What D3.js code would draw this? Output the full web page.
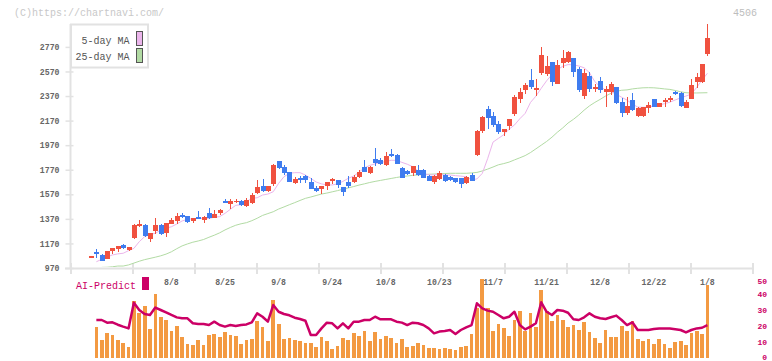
<!DOCTYPE html>
<html><head><meta charset="utf-8">
<script src="https://cdn.jsdelivr.net/npm/d3@7"></script>
<style>body{margin:0;background:#fff;}svg{display:block;}</style>
</head><body>
<svg id="c" width="772" height="361"></svg>
<script>
// ---- data (index 0 = first session, 7/17; index 15 = 8/8; index 115 = 1/8) ----
const openP  = [1063,1100,1078,1043,1111,1125,1155,1117,1212,1314,1320,1206,1271,1320,1257,1331,1353,1404,1393,1353,1385,1363,1415,1375,1418,1518,1491,1510,1518,1477,1499,1580,1637,1597,1651,1841,1792,1749,1658,1700,1718,1670,1621,1616,1640,1688,1686,1629,1667,1667,1710,1794,1743,1857,1850,1808,1900,1892,1785,1759,1743,1770,1770,1721,1672,1692,1727,1710,1700,1700,1664,1727,1893,2085,2264,2205,2142,2080,2126,2224,2346,2419,2501,2419,2560,2547,2647,2465,2641,2649,2677,2587,2373,2533,2430,2494,2399,2399,2444,2319,2234,2338,2207,2210,2275,2346,2283,2319,2338,2405,2398,2275,2348,2486,2486,2710];
const highP  = [1068,1122,1084,1111,1135,1149,1165,1141,1331,1361,1331,1255,1377,1331,1340,1375,1415,1415,1393,1377,1436,1395,1458,1445,1450,1532,1532,1532,1525,1538,1580,1686,1694,1637,1819,1845,1810,1752,1708,1722,1730,1700,1640,1640,1672,1700,1690,1632,1720,1730,1765,1849,1800,1946,1865,1913,1936,1900,1790,1770,1800,1810,1775,1725,1725,1760,1735,1720,1705,1705,1715,1745,2090,2210,2289,2240,2165,2105,2183,2375,2432,2473,2590,2506,2766,2696,2647,2660,2742,2737,2677,2609,2587,2563,2471,2527,2449,2482,2444,2354,2362,2397,2283,2280,2324,2346,2311,2351,2370,2414,2405,2337,2511,2560,2631,2956];
const lowP   = [1062,1054,1027,1043,1084,1100,1125,1109,1206,1306,1220,1184,1245,1240,1225,1325,1331,1380,1340,1335,1365,1340,1370,1375,1405,1500,1453,1500,1475,1470,1495,1575,1590,1585,1640,1775,1730,1673,1651,1660,1660,1612,1590,1575,1605,1650,1625,1556,1620,1665,1705,1750,1735,1800,1805,1800,1875,1815,1700,1725,1720,1720,1700,1675,1650,1690,1670,1680,1665,1625,1655,1675,1880,2070,2101,2120,2060,2045,2093,2210,2310,2386,2430,2370,2540,2536,2455,2465,2600,2640,2528,2405,2349,2403,2403,2392,2280,2380,2305,2197,2215,2250,2200,2200,2230,2278,2278,2283,2324,2378,2283,2275,2348,2438,2480,2696];
const closeP = [1066,1086,1029,1111,1135,1149,1130,1141,1318,1331,1231,1255,1318,1245,1336,1358,1393,1383,1344,1377,1371,1388,1375,1410,1442,1502,1518,1518,1483,1523,1564,1627,1594,1637,1808,1786,1746,1673,1694,1686,1690,1615,1600,1640,1672,1694,1645,1591,1640,1710,1751,1751,1792,1825,1819,1881,1884,1819,1705,1732,1797,1727,1705,1680,1718,1746,1680,1686,1670,1651,1710,1680,2085,2197,2193,2134,2077,2100,2183,2362,2405,2460,2444,2433,2704,2614,2487,2622,2677,2729,2568,2419,2560,2430,2444,2419,2427,2468,2311,2234,2289,2256,2275,2278,2297,2278,2311,2338,2351,2383,2291,2321,2460,2527,2631,2840];
const ma5    = [null,1021,1041,1060,1076,1085,1090,1111,1130,1184,1225,1244,1252,1279,1293,1306,1328,1353,1366,1371,1374,1374,1374,1383,1388,1415,1448,1480,1485,1510,1537,1542,1564,1572,1591,1659,1713,1741,1746,1746,1727,1700,1670,1655,1646,1646,1655,1675,1700,1719,1750,1785,1805,1818,1830,1836,1847,1846,1830,1815,1795,1760,1738,1729,1728,1733,1728,1727,1722,1718,1713,1688,1695,1740,1860,1995,2025,2055,2100,2134,2185,2229,2318,2369,2433,2494,2545,2584,2612,2626,2624,2615,2600,2560,2487,2446,2419,2405,2385,2360,2337,2305,2280,2278,2280,2290,2297,2308,2320,2338,2355,2370,2386,2440,2500,2555];
const ma25   = [null,null,975,976,980,986,986,995,1010,1025,1038,1048,1058,1069,1083,1102,1127,1150,1166,1180,1190,1202,1220,1237,1256,1280,1300,1318,1330,1339,1355,1375,1398,1413,1428,1450,1467,1485,1502,1520,1537,1548,1560,1572,1580,1590,1600,1611,1622,1633,1645,1655,1666,1675,1683,1691,1699,1707,1714,1719,1724,1728,1731,1733,1735,1737,1739,1741,1741,1741,1741,1744,1748,1760,1775,1792,1810,1820,1832,1850,1867,1885,1910,1940,1970,2000,2035,2075,2110,2150,2180,2215,2255,2290,2318,2343,2370,2392,2408,2417,2420,2428,2433,2437,2438,2437,2433,2428,2424,2415,2405,2397,2395,2395,2396,2397];
const aiBars = [null,19.4,11.25,15.6,14.4,11.25,9.4,6.9,35.6,28.3,32.5,18.1,40,25.4,23.75,16.9,20,13.1,8.75,8.1,11.25,8.1,14.4,15,13.1,16.25,14.4,13.75,8.75,11.25,11.9,23.1,19.4,10.6,36.25,21.25,11.9,12.5,11.25,10.6,9.4,9.4,6.9,13.1,10.6,5.6,7.5,12.5,11.25,15.8,13.75,16.9,10.6,16.25,11.9,13.75,12.5,9.4,11.9,6.9,7.5,9.4,8.1,6.25,6.25,5.6,6.25,5.6,5,6.9,7.5,15,31,49.4,31.5,16.9,21.25,18.5,13.75,23.75,29.4,16.9,28.3,19.4,42.5,29.5,23.1,26.9,23.75,19.4,20.6,17.5,22.3,16.25,12.5,9.4,17.5,13.1,13.1,20,16.9,23.1,11.9,10.6,11.9,8.75,11.9,8.75,6.25,10,10.6,8.1,15.6,16.9,15,45.6];
const aiLine = [null,23.75,23.75,22.1,22.3,20.8,19.6,18.5,34.6,30,27.5,26.9,31.5,30,28.5,26.9,25.4,24.8,24.8,21.7,21.25,21.25,20.6,22.7,20.6,19.6,20.6,20,20.6,21,22.3,27.9,25.8,22.7,33.1,28.9,27.5,26.7,25.2,24.4,23.3,14.4,14.4,18.5,22.1,21.7,18.5,21.7,18.5,22.7,22.7,23.75,23.75,25.8,24.2,24.2,24.2,22.7,22.1,20.6,22.1,21.7,20.6,18.5,15.4,16.5,16.9,17.5,15,17.5,19.2,20.6,34.2,31,29.6,28.9,26.9,24.8,25.8,28.9,20.6,17.9,19.6,21.7,34.8,28.9,26.9,30,29.6,28.3,24.2,23.75,25.4,27.9,25.8,24.8,24.4,25.5,26.5,23.75,20.6,22.3,17.5,17.5,17.5,18.1,18.5,18.5,18.5,18,17.5,16,17.5,18.5,18.9,20.6];
const xLabels   = ["8/8","8/25","9/8","9/24","10/8","10/23","11/7","11/21","12/8","12/22","1/8"];
const xLabelIdx = [15,25,35,45,55,65,75,85,95,105,115];
const yTicks    = [970,1170,1370,1570,1770,1970,2170,2370,2570,2770];
const aiTicks   = [0,10,20,30,40,50];
const legendItems = ["5-day MA","25-day MA"];

// ---- scales ----
const N = closeP.length;
const x = d3.scaleLinear().domain([0, N-1]).range([91, 707.4]);
const y = d3.scaleLinear().domain([970, 2770]).range([268, 46.9]);
const yAI = d3.scaleLinear().domain([0, 50]).range([358, 278]);
const gridX = d3.scaleLinear().domain([0, 11]).range([71, 753]);

const svg = d3.select("#c");
const mono = "'Liberation Mono','DejaVu Sans Mono',monospace";
const UP = "#f0513f", DOWN = "#3f7cef";

// header
svg.append("text").attr("x",14).attr("y",16).attr("font-family",mono).attr("font-size",10)
  .attr("fill","#c8c8c8").text("(C)https://chartnavi.com/");
svg.append("text").attr("x",757).attr("y",16).attr("text-anchor","end").attr("font-family",mono)
  .attr("font-size",10).attr("fill","#bdbdbd").text("4506");

// axes
const axisCol = "#e2e2e2";
svg.append("line").attr("x1",70.5).attr("x2",70.5).attr("y1",24).attr("y2",269).attr("stroke",axisCol).attr("stroke-width",2);
svg.append("line").attr("x1",65).attr("x2",753).attr("y1",268.5).attr("y2",268.5).attr("stroke",axisCol).attr("stroke-width",2);

const yAx = svg.append("g").attr("transform","translate(70.5,0)")
  .call(d3.axisLeft(y).tickValues(yTicks).tickSize(5).tickPadding(6).tickFormat(d3.format("d")));
yAx.select(".domain").remove();
yAx.selectAll(".tick line").attr("x1",3).attr("x2",-5).attr("stroke",axisCol).attr("stroke-width",1.5);
yAx.selectAll(".tick text").attr("font-family",mono).attr("font-size",8.2).attr("font-weight","bold").attr("fill","#666");

svg.append("g").selectAll("line").data(d3.range(0,12)).join("line")
  .attr("x1",d=>gridX(d)).attr("x2",d=>gridX(d)).attr("y1",263).attr("y2",274)
  .attr("stroke",axisCol).attr("stroke-width",2);

svg.append("g").selectAll("text").data(xLabels).join("text")
  .attr("x",(d,i)=>x(xLabelIdx[i])).attr("y",285).attr("text-anchor","middle")
  .attr("font-family",mono).attr("font-size",8.2).attr("font-weight","bold").attr("fill","#666").text(d=>d);

// clip for price panel
svg.append("clipPath").attr("id","pc").append("rect").attr("x",71).attr("y",20).attr("width",700).attr("height",247);
const pg = svg.append("g").attr("clip-path","url(#pc)");

// MA lines
const lineGen = d3.line().defined(d=>d!=null).x((d,i)=>x(i)).y(d=>y(d));
pg.append("path").datum(ma25).attr("d",lineGen).attr("fill","none").attr("stroke","#b2dba4").attr("stroke-width",1);
pg.append("path").datum(ma5).attr("d",lineGen).attr("fill","none").attr("stroke","#ebb5eb").attr("stroke-width",1);

// candles
const idx = d3.range(N);
const cg = pg.append("g").attr("shape-rendering","crispEdges");
cg.selectAll("rect.w").data(idx).join("rect").attr("class","w")
  .attr("x",i=>Math.round(x(i))-0.5).attr("width",1)
  .attr("y",i=>y(highP[i])).attr("height",i=>Math.max(1,y(lowP[i])-y(highP[i])))
  .attr("fill",i=>closeP[i]>=openP[i]?UP:DOWN);
cg.selectAll("rect.b").data(idx).join("rect").attr("class","b")
  .attr("x",i=>Math.round(x(i))-2.5).attr("width",5)
  .attr("y",i=>y(Math.max(openP[i],closeP[i])))
  .attr("height",i=>Math.max(1.5,Math.abs(y(openP[i])-y(closeP[i]))))
  .attr("fill",i=>closeP[i]>=openP[i]?UP:DOWN);

// legend
const lg = svg.append("g");
lg.append("rect").attr("x",71).attr("y",24.5).attr("width",77).attr("height",43)
  .attr("fill","#fff").attr("stroke","#e2e2e2").attr("stroke-width",2);
const swC = ["#ebb5eb","#b2dba4"];
legendItems.forEach((t,k)=>{
  lg.append("text").attr("x",129.5).attr("y",44+k*15.5).attr("text-anchor","end")
    .attr("font-family",mono).attr("font-size",10).attr("fill","#555").text(t);
  lg.append("rect").attr("x",136.5).attr("y",31.5+k*17).attr("width",6).attr("height",14)
    .attr("fill",swC[k]).attr("stroke","#555").attr("stroke-width",1);
});

// AI panel
svg.append("text").attr("x",76).attr("y",289).attr("font-family",mono).attr("font-size",10)
  .attr("fill","#cc0066").text("AI-Predict");
svg.append("rect").attr("x",142).attr("y",277).attr("width",7).attr("height",13).attr("fill","#cc0066");

svg.append("g").attr("shape-rendering","crispEdges").selectAll("rect").data(idx.filter(i=>aiBars[i]!=null)).join("rect")
  .attr("x",i=>x(i)-1.8).attr("width",3.7)
  .attr("y",i=>yAI(aiBars[i])).attr("height",i=>yAI(0)-yAI(aiBars[i]))
  .attr("fill","#f39a42");
const aiGen = d3.line().defined(d=>d!=null).x((d,i)=>x(i)).y(d=>yAI(d));
svg.append("path").datum(aiLine).attr("d",aiGen).attr("fill","none").attr("stroke","#cc0066").attr("stroke-width",2.5).attr("stroke-linejoin","round");

svg.append("g").selectAll("text").data(aiTicks).join("text")
  .attr("x",767).attr("y",d=>Math.min(359.5, Math.max(283.5, yAI(d)+2.8))).attr("text-anchor","end")
  .attr("font-family",mono).attr("font-size",8).attr("font-weight","bold").attr("fill","#cc0066").text(d=>d);
</script>
</body></html>
